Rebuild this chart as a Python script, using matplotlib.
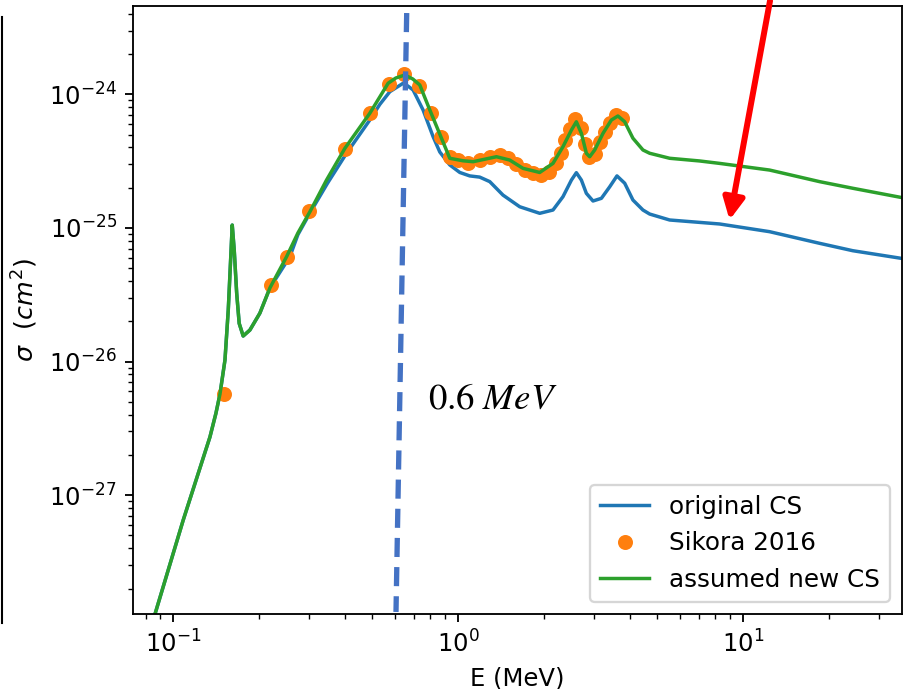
import matplotlib
matplotlib.use("Agg")
import matplotlib.pyplot as plt
from matplotlib.lines import Line2D

# energies in MeV, cross sections in cm^2
E_orig = [0.080, 0.0863, 0.1084, 0.1345, 0.1412, 0.1459, 0.1519, 0.1560, 0.1590,
          0.1611, 0.1637, 0.1670, 0.1704, 0.1760, 0.1858, 0.2014, 0.2184, 0.2567,
          0.2739, 0.3018, 0.3480, 0.4059, 0.4899, 0.5311, 0.5760, 0.6412, 0.6663,
          0.6952, 0.7536, 0.8172, 0.8627, 0.9352, 1.014, 1.099, 1.191, 1.292,
          1.438, 1.646, 1.935, 2.154, 2.335, 2.500, 2.602, 2.710, 2.821, 2.977,
          3.186, 3.407, 3.613, 3.846, 4.111, 4.458, 4.706, 5.532, 8.284, 12.41,
          18.58, 24.32, 35.96, 40.0]
sig_orig = [7.8e-29, 1.29e-28, 6.51e-28, 2.72e-27, 4.10e-27, 5.71e-27, 1.026e-26,
            2.43e-26, 5.75e-26, 1.05e-25, 6.83e-26, 3.24e-26, 1.93e-26, 1.552e-26,
            1.72e-26, 2.30e-26, 3.55e-26, 6.09e-26, 8.9e-26, 1.29e-25, 2.16e-25,
            3.62e-25, 6.42e-25, 8.4e-25, 1.046e-24, 1.209e-24, 1.154e-24, 1.077e-24,
            7.63e-25, 4.82e-25, 3.70e-25, 2.96e-25, 2.60e-25, 2.45e-25, 2.40e-25,
            2.22e-25, 1.76e-25, 1.44e-25, 1.286e-25, 1.361e-25, 1.712e-25, 2.28e-25,
            2.59e-25, 2.28e-25, 1.815e-25, 1.59e-25, 1.665e-25, 2.03e-25, 2.45e-25,
            2.16e-25, 1.617e-25, 1.361e-25, 1.27e-25, 1.146e-25, 1.07e-25, 9.37e-26,
            7.67e-26, 6.75e-26, 5.92e-26, 5.7e-26]

E_new = [0.080, 0.0863, 0.1084, 0.1345, 0.1412, 0.1459, 0.1519, 0.1560, 0.1590,
         0.1611, 0.1637, 0.1670, 0.1704, 0.1760, 0.1858, 0.2014, 0.2184, 0.2500,
         0.2739, 0.3018, 0.3452, 0.4005, 0.4899, 0.5682, 0.6044, 0.6501, 0.6934,
         0.7338, 0.7958, 0.8745, 0.9352, 1.041, 1.129, 1.364, 1.518, 1.691, 1.935,
         2.154, 2.335, 2.500, 2.602, 2.710, 2.821, 2.898, 3.018, 3.227, 3.453,
         3.641, 3.846, 4.111, 4.458, 4.706, 5.532, 7.047, 8.284, 12.41, 18.58,
         24.32, 35.96, 40.0]
sig_new = [7.8e-29, 1.29e-28, 6.51e-28, 2.72e-27, 4.10e-27, 5.71e-27, 1.026e-26,
           2.43e-26, 5.75e-26, 1.05e-25, 6.83e-26, 3.24e-26, 1.93e-26, 1.552e-26,
           1.72e-26, 2.30e-26, 3.55e-26, 6.09e-26, 9.16e-26, 1.32e-25, 2.28e-25,
           3.94e-25, 7.21e-25, 1.21e-24, 1.324e-24, 1.395e-24, 1.302e-24, 1.174e-24,
           7.63e-25, 4.69e-25, 3.32e-25, 3.18e-25, 3.13e-25, 3.41e-25, 3.22e-25,
           2.79e-25, 2.60e-25, 3.04e-25, 4.05e-25, 5.40e-25, 6.23e-25, 5.10e-25,
           3.62e-25, 3.41e-25, 3.83e-25, 5.10e-25, 6.42e-25, 6.88e-25, 6.23e-25,
           4.69e-25, 3.83e-25, 3.62e-25, 3.32e-25, 3.17e-25, 3.04e-25, 2.71e-25,
           2.22e-25, 1.98e-25, 1.69e-25, 1.63e-25]

# Sikora 2016 measurements
E_sik = [0.1506, 0.2197, 0.2500, 0.3001, 0.4014, 0.4899, 0.5700, 0.6462, 0.7297,
         0.8003, 0.8745, 0.9389, 1.000, 1.084, 1.191, 1.292, 1.400, 1.498, 1.603,
         1.714, 1.833, 1.962, 2.086, 2.214, 2.305, 2.368, 2.465, 2.577, 2.710,
         2.794, 2.882, 3.018, 3.142, 3.271, 3.420, 3.590, 3.768]
sig_sik = [5.68e-27, 3.74e-26, 6.02e-26, 1.338e-25, 3.92e-25, 7.28e-25, 1.194e-24,
           1.419e-24, 1.154e-24, 7.28e-25, 4.77e-25, 3.42e-25, 3.25e-25, 3.04e-25,
           3.25e-25, 3.41e-25, 3.51e-25, 3.31e-25, 3.03e-25, 2.71e-25, 2.56e-25,
           2.51e-25, 2.63e-25, 3.06e-25, 3.62e-25, 4.55e-25, 5.50e-25, 6.48e-25,
           5.59e-25, 4.25e-25, 3.41e-25, 3.57e-25, 4.36e-25, 5.25e-25, 6.15e-25,
           6.94e-25, 6.65e-25]

DPI = 166
fig = plt.figure(figsize=(907 / DPI, 689 / DPI), dpi=DPI)
ax = fig.add_axes([0.1466, 0.1089, 0.9945 - 0.1466, 0.9913 - 0.1089])

ax.plot(E_orig, sig_orig, color="#1f77b4", label="original CS")
ax.plot(E_sik, sig_sik, "o", color="#ff7f0e", markersize=5.5, label="Sikora 2016")
ax.plot(E_new, sig_new, color="#2ca02c", label="assumed new CS")

ax.set_xscale("log")
ax.set_yscale("log")
ax.set_xlim(0.0722, 36.2)
ax.set_ylim(1.29e-28, 4.58e-24)
ax.tick_params(labelsize=10.5)
ax.set_xlabel("E (MeV)", fontsize=10.5)
ax.set_ylabel(r"$\sigma\ \ (cm^2)$", fontsize=11)
ax.legend(loc="lower right", fontsize=10.7)

# marker for the 0.6 MeV resonance
fig.add_artist(Line2D([0.4484, 0.4366], [0.9811, 0.1118], color="#4472C4",
                      lw=2.3, linestyle=(0, (3.6, 1.9)), dash_capstyle="butt"))
fig.text(0.4719, 0.4078, r"$0.6\ MeV$", math_fontfamily="stix", fontsize=16,
         va="baseline", ha="left")

# arrow pointing at the high-energy tail
ax.annotate("", xy=(8.98, 1.146e-25), xycoords="data",
            xytext=(0.849, 0.999), textcoords="figure fraction",
            arrowprops=dict(arrowstyle="-|>", color="red", lw=2.6,
                            mutation_scale=19, shrinkA=0, shrinkB=0),
            annotation_clip=False)

# slide border on the left
fig.add_artist(Line2D([0.0025, 0.0025], [1 - 17 / 689, 1 - 623 / 689],
                      color="black", lw=0.9))

fig.savefig("out.png", dpi=DPI)
